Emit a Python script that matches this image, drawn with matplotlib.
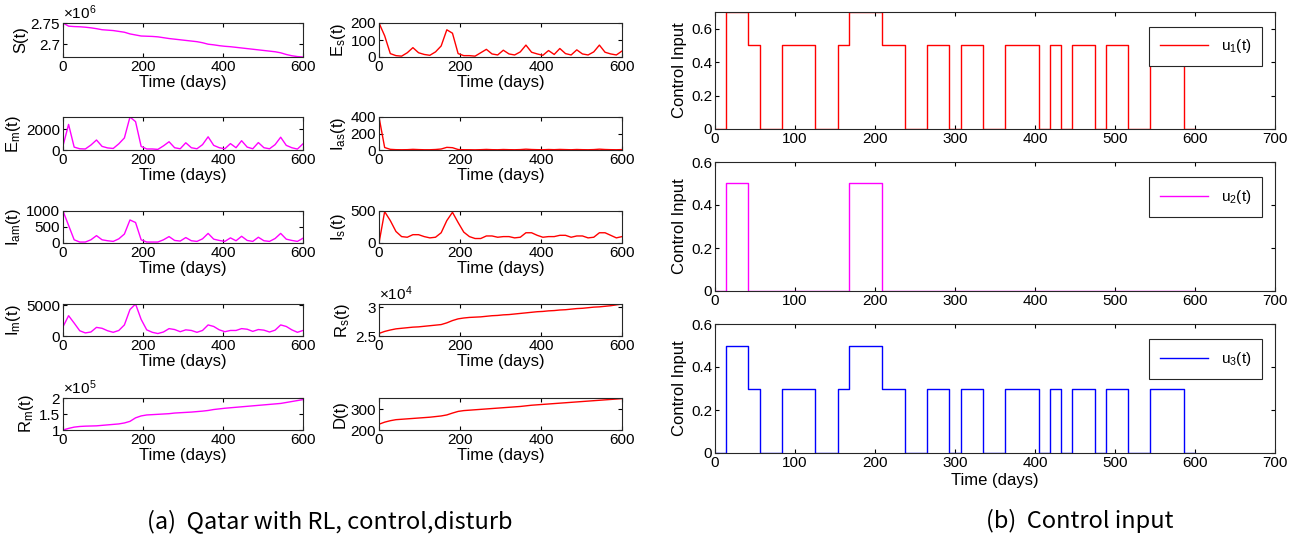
import numpy as np
import matplotlib.pyplot as plt

plt.rcParams['font.family'] = ['Liberation Sans', 'DejaVu Sans']
plt.rcParams['mathtext.fontset'] = 'custom'
plt.rcParams['mathtext.rm'] = 'Liberation Sans'
plt.rcParams['mathtext.it'] = 'Liberation Sans'

# sample times (days), 44 samples over 600 days
t = np.linspace(0, 600, 44)

S = [2.751, 2.7435, 2.7425, 2.742, 2.741, 2.7395, 2.7375, 2.735, 2.734, 2.733,
     2.731, 2.729, 2.725, 2.7225, 2.720, 2.7195, 2.719, 2.718, 2.716, 2.714,
     2.7125, 2.711, 2.7095, 2.708, 2.7065, 2.704, 2.7005, 2.699, 2.697, 2.6955,
     2.6945, 2.693, 2.6915, 2.690, 2.6885, 2.687, 2.6855, 2.684, 2.6825, 2.680,
     2.676, 2.673, 2.671, 2.670]
E_s = [200, 125, 20, 8, 5, 25, 55, 25, 15, 10, 30, 65, 160, 140, 20, 8, 8, 5,
       25, 45, 18, 12, 40, 18, 12, 30, 70, 28, 18, 10, 38, 15, 50, 20, 12, 42,
       18, 12, 30, 70, 28, 18, 12, 35]
E_m = [400, 2480, 280, 120, 100, 480, 970, 350, 200, 150, 600, 1170, 3200,
       2750, 350, 100, 100, 60, 400, 800, 220, 120, 700, 220, 120, 520, 1280,
       450, 220, 120, 620, 220, 900, 280, 120, 720, 220, 120, 520, 1240, 450,
       220, 90, 600]
I_as = [400, 30, 8, 4, 3, 4, 8, 5, 3, 3, 6, 12, 32, 28, 6, 3, 3, 2, 4, 7, 4,
        3, 6, 4, 3, 5, 10, 6, 4, 3, 6, 4, 7, 5, 3, 6, 4, 3, 5, 10, 6, 4, 3, 5]
I_am = [1000, 550, 100, 30, 30, 100, 230, 100, 70, 50, 130, 280, 720, 640, 100,
        30, 30, 30, 100, 200, 80, 60, 170, 70, 50, 130, 300, 120, 80, 50, 160,
        70, 210, 80, 50, 180, 70, 50, 140, 300, 120, 80, 50, 150]
I_s = [0, 490, 350, 180, 100, 90, 130, 130, 100, 80, 90, 160, 350, 480, 320,
       170, 100, 70, 70, 110, 110, 90, 100, 100, 80, 90, 160, 160, 120, 90, 100,
       100, 120, 120, 90, 110, 110, 80, 90, 160, 160, 120, 80, 100]
I_m = [1500, 3300, 2100, 850, 500, 650, 1400, 1250, 850, 600, 900, 1800, 4300,
       5200, 2700, 1000, 600, 400, 650, 1200, 1050, 700, 1000, 900, 600, 900,
       1800, 1550, 1000, 700, 900, 900, 1200, 1100, 750, 1050, 950, 650, 950,
       1800, 1550, 1000, 600, 900]
R_s = [2.545, 2.58, 2.605, 2.625, 2.635, 2.645, 2.655, 2.66, 2.67, 2.68, 2.69,
       2.70, 2.73, 2.77, 2.80, 2.815, 2.825, 2.83, 2.835, 2.845, 2.855, 2.86,
       2.87, 2.875, 2.885, 2.895, 2.905, 2.915, 2.925, 2.93, 2.94, 2.945, 2.955,
       2.96, 2.97, 2.98, 2.985, 2.995, 3.005, 3.01, 3.02, 3.03, 3.045, 3.06]
R_m = [1.00, 1.05, 1.09, 1.11, 1.12, 1.125, 1.13, 1.145, 1.16, 1.175, 1.19,
       1.22, 1.27, 1.38, 1.44, 1.47, 1.48, 1.49, 1.50, 1.51, 1.53, 1.54, 1.55,
       1.56, 1.575, 1.59, 1.61, 1.64, 1.66, 1.68, 1.695, 1.71, 1.725, 1.74,
       1.755, 1.77, 1.785, 1.80, 1.815, 1.83, 1.86, 1.89, 1.92, 1.95]
D = [228, 238, 245, 250, 252, 254, 256, 258, 260, 262, 265, 268, 273, 282, 290,
     294, 296, 298, 300, 302, 304, 306, 308, 310, 312, 314, 317, 320, 322, 324,
     326, 328, 330, 332, 334, 336, 338, 340, 342, 344, 346, 348, 350, 352]

# control inputs (value held from each sample time to the next)
u1 = [0, 0.7, 0.7, 0.5, 0, 0, 0.5, 0.5, 0.5, 0, 0, 0.5, 0.7, 0.7, 0.7, 0.5, 0.5,
      0, 0, 0.5, 0.5, 0, 0.5, 0.5, 0, 0, 0.5, 0.5, 0.5, 0, 0.5, 0, 0.5, 0.5, 0,
      0.5, 0.5, 0, 0, 0.5, 0.5, 0.5, 0, 0]
u2 = [0, 0.5, 0.5, 0, 0, 0, 0, 0, 0, 0, 0, 0, 0.5, 0.5, 0.5, 0, 0, 0, 0, 0, 0,
      0, 0, 0, 0, 0, 0, 0, 0, 0, 0, 0, 0, 0, 0, 0, 0, 0, 0, 0, 0, 0, 0, 0]
u3 = [0, 0.5, 0.5, 0.3, 0, 0, 0.3, 0.3, 0.3, 0, 0, 0.3, 0.5, 0.5, 0.5, 0.3, 0.3,
      0, 0, 0.3, 0.3, 0, 0.3, 0.3, 0, 0, 0.3, 0.3, 0.3, 0, 0.3, 0, 0.3, 0.3, 0,
      0.3, 0.3, 0, 0, 0.3, 0.3, 0.3, 0, 0]

W, H = 1299, 541
fig = plt.figure(figsize=(W / 100, H / 100), dpi=100)


def px_axes(l, top, r, b):
    return fig.add_axes([l / W, 1 - b / H, (r - l) / W, (b - top) / H])


def style(ax, fs=11):
    ax.tick_params(direction='in', top=True, right=True, length=3,
                   labelsize=fs, pad=2)
    for s in ax.spines.values():
        s.set_linewidth(0.8)
        s.set_color('#262626')


# left panel: state trajectories
cols = [(63, 303), (379, 622)]
rows = [(23, 57), (117, 150), (211, 243), (304, 336), (398, 430)]
left_series = [
    (S, 'm', 'S(t)', None, [2.7, 2.75], ['2.7', '2.75'], r'$\times10^{6}$'),
    (E_s, 'r', r'E$_\mathregular{s}$(t)', (0, 200), [0, 100, 200], None, None),
    (E_m, 'm', r'E$_\mathregular{m}$(t)', None, [0, 2000], None, None),
    (I_as, 'r', r'I$_\mathregular{as}$(t)', (0, 400), [0, 200, 400], None, None),
    (I_am, 'm', r'I$_\mathregular{am}$(t)', (0, 1000), [0, 500, 1000], None, None),
    (I_s, 'r', r'I$_\mathregular{s}$(t)', (0, 500), [0, 500], None, None),
    (I_m, 'm', r'I$_\mathregular{m}$(t)', None, [0, 5000], None, None),
    (R_s, 'r', r'R$_\mathregular{s}$(t)', None, [2.5, 3], ['2.5', '3'], r'$\times10^{4}$'),
    (R_m, 'm', r'R$_\mathregular{m}$(t)', (1, 2), [1, 1.5, 2], ['1', '1.5', '2'], r'$\times10^{5}$'),
    (D, 'r', 'D(t)', (200, 355), [200, 300], None, None),
]

for i, (y, c, lab, ylim, ticks, ticklabels, expo) in enumerate(left_series):
    l, r = cols[i % 2]
    top, b = rows[i // 2]
    ax = px_axes(l, top, r, b)
    ax.plot(t, y, color='#ff00ff' if c == 'm' else '#ff0000', lw=1.0)
    ax.set_xlim(0, 600)
    ax.set_xticks([0, 200, 400, 600])
    if ylim is None:
        ylim = (min(y), max(y))
    ax.set_ylim(*ylim)
    ax.set_yticks(ticks)
    if ticklabels:
        ax.set_yticklabels(ticklabels)
    ax.set_ylabel(lab, fontsize=12, labelpad=2)
    ax.set_xlabel('Time (days)', fontsize=12, labelpad=1)
    if expo:
        ax.text(0, 1.04, expo, transform=ax.transAxes, fontsize=11,
                ha='left', va='bottom')
    style(ax)

# right panel: control inputs
controls = [(u1, '#ff0000', r'u$_\mathregular{1}$(t)', 0.7, (12, 129)),
            (u2, '#ff00ff', r'u$_\mathregular{2}$(t)', 0.6, (162, 291)),
            (u3, '#0000ff', r'u$_\mathregular{3}$(t)', 0.6, (324, 453))]
for j, (u, c, lab, ytop, (top, b)) in enumerate(controls):
    ax = px_axes(715, top, 1275, b)
    ax.plot(t, u, color=c, lw=1.0, drawstyle='steps-post', label=lab)
    ax.set_xlim(0, 700)
    ax.set_ylim(0, ytop)
    ax.set_xticks(range(0, 701, 100))
    ax.set_yticks([0, 0.2, 0.4, 0.6])
    ax.set_yticklabels(['0', '0.2', '0.4', '0.6'])
    ax.set_ylabel('Control Input', fontsize=12, labelpad=3)
    if j == 2:
        ax.set_xlabel('Time (days)', fontsize=12, labelpad=2)
    leg = ax.legend(loc='upper right', fontsize=11, handlelength=3.2,
                    fancybox=False, framealpha=1, borderpad=0.7,
                    bbox_to_anchor=(0.99, 0.94))
    leg.get_frame().set_edgecolor('#262626')
    leg.get_frame().set_linewidth(0.8)
    style(ax, fs=11)

cap_font = ['Noto Sans CJK KR', 'DejaVu Sans']
fig.text(330 / W, 1 - 521 / H, '(a)  Qatar with RL, control,disturb',
         fontsize=17, family=cap_font, ha='center', va='center')
fig.text(1080 / W, 1 - 521 / H, '(b)  Control input',
         fontsize=17, family=cap_font, ha='center', va='center')

fig.savefig('out.png', dpi=100)
